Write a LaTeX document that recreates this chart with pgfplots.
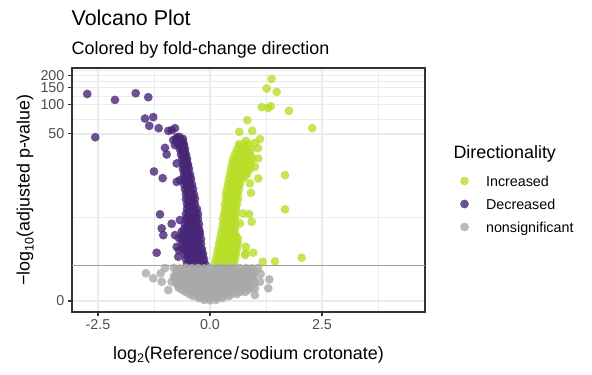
\documentclass[border=0pt]{standalone}
\usepackage{fontspec}
\setmainfont{Liberation Sans}
\usepackage{pgfplots}
\pgfplotsset{compat=1.18}
\definecolor{incr}{HTML}{B8DE29}
\definecolor{decr}{HTML}{482677}
\definecolor{nons}{HTML}{A9A9A9}
\definecolor{grid92}{HTML}{EBEBEB}
\definecolor{grey20}{HTML}{333333}
\definecolor{grey30}{HTML}{4D4D4D}
\begin{document}
\begin{tikzpicture}
\useasboundingbox (0pt,0pt) rectangle (592pt,375pt);
\begin{axis}[
  at={(72pt,63pt)}, anchor=south west,
  scale only axis, width=353pt, height=244pt,
  xmin=-3.08, xmax=4.80, ymin=-0.112, ymax=2.38,
  axis line style={grey20, line width=1.3pt},
  tick align=outside, tick pos=left,
  major tick length=4.4pt, minor tick length=0pt,
  tick style={grey20, line width=1.2pt},
  xtick={-2.5,0,2.5}, xticklabels={-2.5,0.0,2.5},
  minor xtick={-1.25,1.25,3.75},
  ytick={0,1.70757,2.00432,2.17898,2.30320}, yticklabels={0,50,100,150,200},
  minor ytick={0.85379,1.85595,2.09165,2.24109,2.35144},
  grid=both,
  major grid style={grid92, line width=1.4pt},
  minor grid style={grid92, line width=0.7pt},
  ticklabel style={font=\fontsize{14.3}{14.3}\selectfont, text=grey30},
  yticklabel style={inner sep=0pt, xshift=-3pt},
  clip marker paths=true,
  legend image code/.code={\draw[#1] plot coordinates {(0pt,0pt)};},
  legend style={at={(axis description cs:1.0994,0.5582)}, anchor=north west,
    draw=none, fill=none, inner sep=0pt, outer sep=0pt,
    row sep=12.6pt,
    /tikz/every odd column/.style={column sep=17.2pt},
    /tikz/every even column/.style={column sep=0pt},
    nodes={inner sep=0pt, text height=10.4pt, text depth=0pt},
    font=\fontsize{14.3}{14.3}\selectfont},
  legend cell align=left,
  pts/.style={only marks, mark=*, mark size=4.4pt, color=#1,
    mark options={draw=#1, fill=#1, fill opacity=0.8, draw opacity=0, line width=0pt}},
]
% Increased
\addplot[pts=incr] coordinates {
(0.112,0.378)(0.223,0.381)(0.335,0.376)(0.446,0.379)(0.536,0.377)
(0.134,0.429)(0.246,0.432)(0.357,0.426)(0.469,0.430)(0.558,0.428)
(0.156,0.480)(0.268,0.477)(0.379,0.483)(0.491,0.480)(0.580,0.478)
(0.179,0.531)(0.290,0.534)(0.402,0.528)(0.513,0.531)(0.603,0.533)
(0.201,0.582)(0.313,0.579)(0.424,0.585)(0.536,0.582)(0.625,0.580)
(0.223,0.633)(0.335,0.636)(0.446,0.630)(0.536,0.633)(0.625,0.635)
(0.246,0.684)(0.357,0.681)(0.469,0.687)(0.558,0.684)
(0.268,0.735)(0.379,0.738)(0.469,0.732)(0.558,0.735)
(0.290,0.786)(0.379,0.783)(0.469,0.789)(0.558,0.786)
(0.290,0.837)(0.402,0.840)(0.491,0.834)(0.558,0.837)
(0.313,0.888)(0.402,0.885)(0.491,0.891)(0.580,0.888)
(0.335,0.939)(0.424,0.942)(0.513,0.936)(0.580,0.939)
(0.335,0.990)(0.424,0.987)(0.513,0.993)(0.603,0.990)
(0.357,1.041)(0.446,1.044)(0.536,1.038)(0.625,1.041)
(0.357,1.092)(0.446,1.089)(0.536,1.095)(0.625,1.092)
(0.379,1.143)(0.469,1.146)(0.558,1.140)(0.647,1.143)
(0.402,1.194)(0.491,1.191)(0.580,1.197)(0.670,1.194)
(0.424,1.245)(0.513,1.248)(0.603,1.242)(0.714,1.245)
(0.446,1.296)(0.536,1.293)(0.625,1.299)(0.737,1.296)(0.826,1.296)
(0.469,1.347)(0.558,1.350)(0.670,1.344)(0.781,1.347)(0.893,1.347)
(0.491,1.398)(0.580,1.395)(0.692,1.401)(0.804,1.398)(0.915,1.398)
(0.513,1.449)(0.625,1.452)(0.737,1.446)(0.848,1.449)(0.938,1.449)
(0.558,1.500)(0.670,1.497)(0.781,1.503)(0.893,1.500)
(0.603,1.551)(0.714,1.554)(0.826,1.548)(0.915,1.551)
(0.647,1.602)(0.759,1.605)(0.871,1.602)
(0.18,0.404)(0.29,0.404)(0.40,0.404)(0.50,0.404)
(0.20,0.455)(0.31,0.455)(0.42,0.455)(0.53,0.455)
(0.22,0.506)(0.33,0.506)(0.44,0.506)(0.55,0.506)
(0.24,0.557)(0.35,0.557)(0.46,0.557)(0.57,0.557)
(0.26,0.608)(0.37,0.608)(0.49,0.608)(0.58,0.608)
(0.29,0.659)(0.40,0.659)(0.50,0.659)(0.59,0.659)
(0.31,0.710)(0.42,0.710)(0.51,0.710)
(0.33,0.761)(0.42,0.761)(0.51,0.761)
(0.34,0.812)(0.44,0.812)(0.52,0.812)
(0.35,0.863)(0.45,0.863)(0.53,0.863)
(0.37,0.914)(0.46,0.914)(0.54,0.914)
(0.38,0.965)(0.47,0.965)(0.56,0.965)
(0.39,1.016)(0.48,1.016)(0.57,1.016)
(0.40,1.067)(0.49,1.067)(0.58,1.067)
(0.42,1.118)(0.51,1.118)(0.60,1.118)
(0.44,1.169)(0.53,1.169)(0.62,1.169)
(0.46,1.220)(0.55,1.220)(0.64,1.220)
(0.48,1.271)(0.57,1.271)(0.67,1.271)(0.78,1.271)
(0.50,1.322)(0.60,1.322)(0.70,1.322)(0.81,1.322)
(0.52,1.373)(0.62,1.373)(0.74,1.373)(0.85,1.373)
(0.55,1.424)(0.66,1.424)(0.77,1.424)(0.88,1.424)
(0.59,1.475)(0.70,1.475)(0.81,1.475)(0.92,1.475)
(0.63,1.526)(0.74,1.526)(0.85,1.526)
(0.68,1.577)(0.79,1.577)
(4.435,2.385)(1.377,2.268)(1.266,2.170)(1.489,2.136)(1.154,1.980)(1.301,1.972)
(1.355,1.990)(1.763,1.942)(2.283,1.765)(0.833,1.847)(0.654,1.728)(0.944,1.738)
(0.804,1.636)(1.004,1.615)(1.116,1.653)(1.071,1.561)(1.674,1.286)(1.674,0.936)
(1.078,1.252)(0.893,1.201)(0.915,1.105)(0.743,0.895)(0.877,0.888)(0.931,0.809)
(0.670,0.793)(0.804,0.554)(0.797,0.487)(0.967,0.493)(1.176,0.401)(1.450,0.405)
(2.047,0.442)(0.781,0.469)(1.078,1.456)(1.004,1.370)
};
\addlegendentry{Increased}
% Decreased
\addplot[pts=decr] coordinates {
(-0.513,0.378)(-0.402,0.381)(-0.290,0.376)(-0.179,0.379)(-0.112,0.377)
(-0.536,0.429)(-0.424,0.426)(-0.313,0.432)(-0.201,0.429)(-0.134,0.428)
(-0.558,0.480)(-0.446,0.483)(-0.335,0.477)(-0.223,0.480)(-0.156,0.481)
(-0.603,0.531)(-0.491,0.528)(-0.379,0.534)(-0.268,0.531)(-0.179,0.530)
(-0.625,0.582)(-0.513,0.585)(-0.402,0.579)(-0.290,0.582)(-0.201,0.583)
(-0.625,0.633)(-0.513,0.630)(-0.402,0.636)(-0.290,0.633)(-0.201,0.632)
(-0.603,0.684)(-0.491,0.687)(-0.379,0.681)(-0.290,0.684)(-0.223,0.684)
(-0.580,0.735)(-0.469,0.732)(-0.357,0.738)(-0.246,0.735)
(-0.558,0.786)(-0.446,0.789)(-0.335,0.783)(-0.246,0.786)
(-0.536,0.837)(-0.446,0.834)(-0.357,0.840)(-0.268,0.837)
(-0.536,0.888)(-0.446,0.891)(-0.357,0.885)(-0.268,0.888)
(-0.513,0.939)(-0.424,0.936)(-0.357,0.942)(-0.290,0.939)
(-0.513,0.990)(-0.424,0.993)(-0.335,0.987)
(-0.536,1.041)(-0.446,1.038)(-0.335,1.044)
(-0.536,1.092)(-0.446,1.095)(-0.357,1.089)
(-0.558,1.143)(-0.469,1.140)(-0.379,1.146)
(-0.580,1.194)(-0.491,1.197)(-0.402,1.191)
(-0.580,1.245)(-0.491,1.242)(-0.424,1.248)
(-0.580,1.296)(-0.513,1.299)(-0.446,1.293)
(-0.603,1.347)(-0.536,1.344)(-0.469,1.350)
(-0.603,1.398)(-0.536,1.401)(-0.491,1.395)
(-0.625,1.449)(-0.558,1.446)(-0.513,1.452)
(-0.647,1.500)(-0.580,1.503)(-0.536,1.497)
(-0.670,1.551)(-0.603,1.548)(-0.558,1.554)
(-0.714,1.602)(-0.625,1.605)(-0.580,1.599)
(-0.759,1.653)(-0.670,1.650)(-0.603,1.656)
(-0.47,0.404)(-0.36,0.404)(-0.25,0.404)(-0.15,0.404)
(-0.49,0.455)(-0.38,0.455)(-0.27,0.455)(-0.17,0.455)
(-0.52,0.506)(-0.41,0.506)(-0.30,0.506)(-0.19,0.506)
(-0.56,0.557)(-0.45,0.557)(-0.34,0.557)(-0.24,0.557)
(-0.57,0.608)(-0.46,0.608)(-0.35,0.608)(-0.245,0.608)
(-0.56,0.659)(-0.45,0.659)(-0.34,0.659)(-0.255,0.659)
(-0.535,0.710)(-0.42,0.710)(-0.31,0.710)(-0.235,0.710)
(-0.51,0.761)(-0.40,0.761)(-0.29,0.761)
(-0.49,0.812)(-0.39,0.812)(-0.30,0.812)
(-0.49,0.863)(-0.40,0.863)(-0.31,0.863)
(-0.48,0.914)(-0.39,0.914)(-0.32,0.914)
(-0.47,0.965)(-0.38,0.965)
(-0.48,1.016)(-0.38,1.016)
(-0.49,1.067)(-0.39,1.067)
(-0.50,1.118)(-0.41,1.118)
(-0.52,1.169)(-0.44,1.169)
(-0.535,1.220)(-0.45,1.220)
(-0.55,1.271)(-0.47,1.271)
(-0.56,1.322)(-0.49,1.322)
(-0.57,1.373)(-0.50,1.373)
(-0.58,1.424)(-0.52,1.424)
(-0.60,1.475)(-0.55,1.475)
(-0.62,1.526)(-0.57,1.526)
(-0.65,1.577)(-0.59,1.577)
(-0.69,1.628)(-0.61,1.628)
(-2.739,2.115)(-2.560,1.673)(-2.121,2.054)(-1.658,2.122)(-1.377,2.082)(-1.451,1.864)
(-1.266,1.878)(-1.355,1.789)(-1.145,1.765)(-0.931,1.738)(-0.855,1.745)(-0.781,1.765)
(-0.819,1.643)(-0.685,1.677)(-0.737,1.673)(-0.781,1.592)(-0.609,1.541)(-1.004,1.564)
(-0.967,1.497)(-0.743,1.405)(-1.250,1.323)(-1.056,1.255)(-0.743,1.217)(-1.116,0.885)
(-0.855,0.789)(-1.078,0.742)(-1.042,0.673)(-0.781,0.673)(-0.743,0.554)(-1.190,0.493)
(-0.708,0.452)(-0.670,0.827)(-0.632,0.707)(-0.670,1.235)(-0.692,0.643)(-0.692,0.520)
};
\addlegendentry{Decreased}
% nonsignificant
\addplot[pts=nons] coordinates {
(-0.804,0.337)(-0.670,0.333)(-0.536,0.340)(-0.402,0.336)(-0.268,0.338)(-0.134,0.334)(0,0.339)
(0.134,0.335)(0.268,0.338)(0.402,0.333)(0.536,0.339)(0.670,0.336)(0.804,0.337)(0.938,0.334)
(-0.737,0.296)(-0.603,0.299)(-0.469,0.293)(-0.335,0.297)(-0.201,0.295)(-0.067,0.298)(0.067,0.294)
(0.201,0.297)(0.335,0.293)(0.469,0.298)(0.603,0.295)(0.737,0.297)(0.871,0.294)(1.004,0.296)
(-0.804,0.255)(-0.670,0.258)(-0.536,0.252)(-0.402,0.256)(-0.268,0.254)(-0.134,0.257)(0,0.253)
(0.134,0.256)(0.268,0.252)(0.402,0.257)(0.536,0.254)(0.670,0.256)(0.804,0.253)(0.938,0.255)
(-0.759,0.214)(-0.625,0.211)(-0.491,0.217)(-0.357,0.213)(-0.223,0.215)(-0.089,0.212)(0.045,0.216)
(0.179,0.213)(0.313,0.217)(0.446,0.212)(0.580,0.215)(0.714,0.213)(0.848,0.216)(0.982,0.214)
(-0.737,0.173)(-0.603,0.176)(-0.469,0.170)(-0.335,0.174)(-0.201,0.172)(-0.067,0.175)(0.067,0.171)
(0.201,0.174)(0.335,0.170)(0.469,0.175)(0.603,0.172)(0.737,0.174)(0.871,0.171)(0.982,0.173)
(-0.692,0.133)(-0.558,0.130)(-0.424,0.136)(-0.290,0.132)(-0.156,0.134)(-0.022,0.131)(0.112,0.135)
(0.246,0.132)(0.379,0.136)(0.513,0.131)(0.647,0.134)(0.781,0.132)(0.915,0.133)
(-0.536,0.092)(-0.402,0.095)(-0.268,0.089)(-0.134,0.093)(0,0.091)(0.134,0.094)(0.268,0.090)
(0.402,0.093)(0.536,0.089)(0.670,0.094)(0.781,0.092)
(-0.379,0.051)(-0.246,0.054)(-0.112,0.048)(0.022,0.052)(0.156,0.050)(0.290,0.053)(0.424,0.049)
(-0.134,0.012)(0,0.008)(0.134,0.011)
(-0.74,0.316)(-0.60,0.316)(-0.47,0.316)(-0.34,0.316)(-0.20,0.316)(-0.07,0.316)(0.07,0.316)
(0.20,0.316)(0.34,0.316)(0.47,0.316)(0.60,0.316)(0.74,0.316)(0.87,0.316)
(-0.74,0.275)(-0.60,0.275)(-0.47,0.275)(-0.34,0.275)(-0.20,0.275)(-0.07,0.275)(0.07,0.275)
(0.20,0.275)(0.34,0.275)(0.47,0.275)(0.60,0.275)(0.74,0.275)(0.87,0.275)(0.97,0.275)
(-0.78,0.234)(-0.65,0.234)(-0.51,0.234)(-0.38,0.234)(-0.25,0.234)(-0.11,0.234)(0.02,0.234)
(0.16,0.234)(0.29,0.234)(0.42,0.234)(0.56,0.234)(0.69,0.234)(0.83,0.234)(0.96,0.234)
(-0.75,0.193)(-0.61,0.193)(-0.48,0.193)(-0.35,0.193)(-0.21,0.193)(-0.08,0.193)(0.06,0.193)
(0.19,0.193)(0.32,0.193)(0.46,0.193)(0.59,0.193)(0.73,0.193)(0.86,0.193)
(-0.71,0.153)(-0.58,0.153)(-0.45,0.153)(-0.31,0.153)(-0.18,0.153)(-0.04,0.153)(0.09,0.153)
(0.22,0.153)(0.36,0.153)(0.49,0.153)(0.63,0.153)(0.76,0.153)(0.89,0.153)
(-0.62,0.112)(-0.49,0.112)(-0.36,0.112)(-0.22,0.112)(-0.09,0.112)(0.05,0.112)(0.18,0.112)
(0.31,0.112)(0.45,0.112)(0.58,0.112)(0.71,0.112)(0.84,0.112)
(-0.46,0.071)(-0.33,0.071)(-0.20,0.071)(-0.07,0.071)(0.07,0.071)(0.20,0.071)(0.33,0.071)
(0.47,0.071)(0.60,0.071)
(-0.25,0.031)(-0.12,0.031)(0.02,0.031)(0.15,0.031)(0.28,0.031)
(-1.429,0.283)(-1.266,0.232)(-1.100,0.283)(-1.078,0.197)(-0.931,0.112)(-0.855,0.197)
(0.893,0.316)(1.132,0.276)(1.324,0.221)(1.004,0.130)(1.116,0.197)(1.301,0.130)
(1.004,0.061)(-1.004,0.337)(1.071,0.337)
};
\addlegendentry{nonsignificant}
\addplot[forget plot, draw=black!38, line width=0.9pt] coordinates {(-3.08,0.3619)(4.80,0.3619)};
\end{axis}
\node[anchor=base west, inner sep=0pt, font=\fontsize{21.4}{21.4}\selectfont] at (71.5pt,349pt) {Volcano Plot};
\node[anchor=base west, inner sep=0pt, font=\fontsize{17.9}{17.9}\selectfont] at (71.5pt,320pt) {Colored by fold-change direction};
\node[anchor=base, inner sep=0pt, font=\fontsize{17.9}{17.9}\selectfont] at (248.5pt,16pt) {log\raisebox{-0.22em}{\fontsize{12.5}{12.5}\selectfont 2}(Reference\kern1.5pt/\kern1.5pt sodium crotonate)};
\node[rotate=90, anchor=base, inner sep=0pt, font=\fontsize{17.9}{17.9}\selectfont] at (29.7pt,185pt) {−log\raisebox{-0.22em}{\fontsize{12.5}{12.5}\selectfont 10}(adjusted p-value)};
\node[anchor=base west, inner sep=0pt, font=\fontsize{17.9}{17.9}\selectfont] at (453.3pt,216.7pt) {Directionality};
\end{tikzpicture}
\end{document}
